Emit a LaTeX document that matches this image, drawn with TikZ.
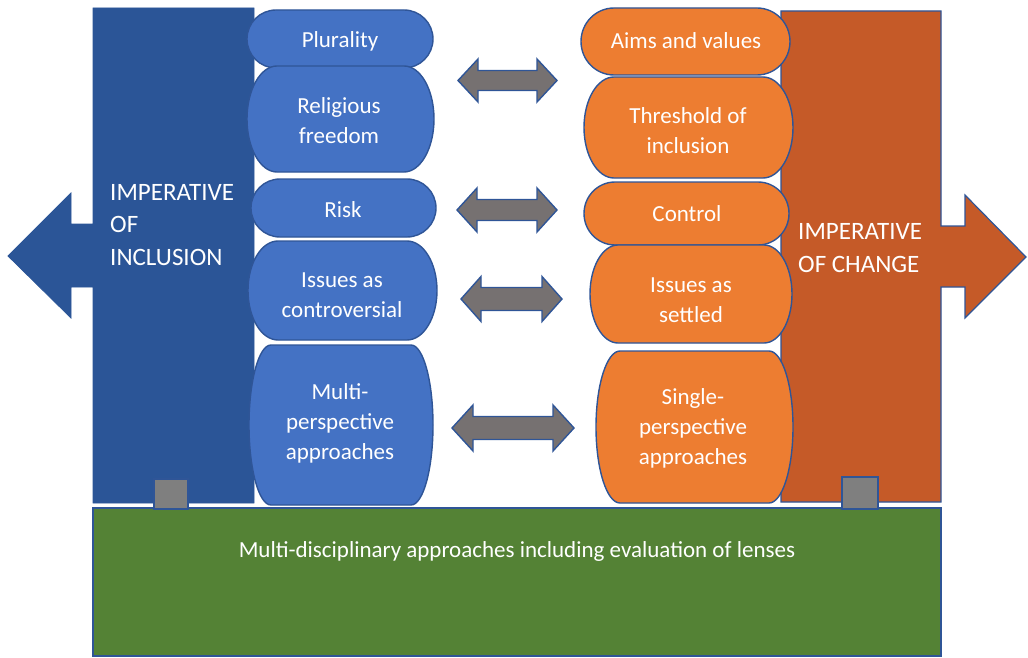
\documentclass[tikz,border=0pt]{standalone}
\usepackage{fontspec}
\setmainfont{Carlito}
\definecolor{boxblue}{HTML}{4472C4}
\definecolor{darkblue}{HTML}{2B5597}
\definecolor{edgeblue}{HTML}{2F5597}
\definecolor{boxorange}{HTML}{ED7D31}
\definecolor{darkorange}{HTML}{C55A28}
\definecolor{lensgreen}{HTML}{548235}
\definecolor{arrowgrey}{HTML}{767171}
\definecolor{squaregrey}{HTML}{7F7F7F}
\newcommand\pill[6][]{\pgfmathsetmacro\pillry{(#5-#3)/2}%
  \draw[#1] (#2+#6,#3) -- (#4-#6,#3) arc[start angle=90,end angle=-90,x radius=#6pt,y radius=\pillry pt]
  -- (#2+#6,#5) arc[start angle=270,end angle=90,x radius=#6pt,y radius=\pillry pt] -- cycle;}
\newcommand\dblarrow[6]{% xl xr yc headlen halfhead halfshaft
  \draw[grey arrow] (#1,#3) -- (#1+#4,#3-#5) -- (#1+#4,#3-#6) -- (#2-#4,#3-#6) -- (#2-#4,#3-#5)
  -- (#2,#3) -- (#2-#4,#3+#5) -- (#2-#4,#3+#6) -- (#1+#4,#3+#6) -- (#1+#4,#3+#5) -- cycle;}
\tikzset{
  blue pill/.style={fill=boxblue,draw=edgeblue,line width=1.4pt},
  orange pill/.style={fill=boxorange,draw=edgeblue,line width=1.4pt},
  grey arrow/.style={fill=arrowgrey,draw=edgeblue,line width=1.4pt,line join=miter},
  label/.style={text=white,align=center,font=\fontsize{23}{30}\selectfont,inner sep=0pt},
  biglabel/.style={text=white,align=left,font=\fontsize{25}{32.5}\selectfont,inner sep=0pt},
}
\begin{document}
\begin{tikzpicture}[x=1pt,y=-1pt]
\useasboundingbox (0,0) rectangle (1028,658);
% big arrows
\draw[fill=darkblue,draw=darkblue,line width=0.8pt] (93,8) -- (254,8) -- (254,503) -- (93,503) -- (93,287) -- (71,287) -- (71,318) -- (8,256) -- (71,193) -- (71,224) -- (93,224) -- cycle;
\draw[fill=darkorange,draw=edgeblue,line width=1.2pt,line join=miter] (781,11) -- (941,11) -- (941,226) -- (965,226) -- (965,195) -- (1026,257) -- (965,318) -- (965,287) -- (941,287) -- (941,502) -- (781,502) -- cycle;
% blue pills
\pill[blue pill]{247}{10}{433}{68}{29}
\pill[blue pill]{247}{66}{434}{172}{30}
\pill[blue pill]{251}{179}{436}{237}{29}
\pill[blue pill]{248}{241}{437}{340}{30}
\pill[blue pill]{249}{345}{433}{505}{22}
% orange pills
\pill[orange pill]{581}{8}{790}{75}{33}
\pill[orange pill]{584}{77}{793}{178}{30}
\pill[orange pill]{584}{182}{789}{245}{31}
\pill[orange pill]{590}{245}{792}{343}{28}
\pill[orange pill]{596}{351}{793}{503}{24}
% double arrows
\dblarrow{458}{557}{80.5}{20}{21.5}{10}
\dblarrow{457}{557}{210}{20}{22}{10.5}
\dblarrow{461}{562}{299}{20}{22.5}{11.5}
\dblarrow{452}{574}{428}{21}{23}{11.5}
% green base
\draw[fill=lensgreen,draw=edgeblue,line width=1.2pt] (93,508) rectangle (941,656);
\draw[fill=squaregrey,draw=edgeblue,line width=1.2pt] (154,479) rectangle (188,509);
\draw[fill=squaregrey,draw=edgeblue,line width=1.2pt] (842,477) rectangle (878,509);
% labels
\node[biglabel,anchor=west] (incl) at (110,225) {IMPERATIVE\\OF\\INCLUSION};
\node[biglabel,anchor=west] (chg) at (798,248) {IMPERATIVE\\OF CHANGE};
\node[label] (plur) at (340,41) {Plurality};
\node[label] (relf) at (339,121) {Religious\\freedom};
\node[label] (risk) at (343,210) {Risk};
\node[label] (contr) at (342,295) {Issues as\\controversial};
\node[label] (multi) at (340,423) {Multi-\\perspective\\approaches};
\node[label] (aims) at (686,41) {Aims and values};
\node[label] (thresh) at (688,131) {Threshold of\\inclusion};
\node[label] (ctrl) at (687,214) {Control};
\node[label] (settled) at (691,300) {Issues as\\settled};
\node[label] (single) at (693,428) {Single-\\perspective\\approaches};
\node[label] (lens) at (517,551) {Multi-disciplinary approaches including evaluation of lenses};
\end{tikzpicture}
\end{document}
